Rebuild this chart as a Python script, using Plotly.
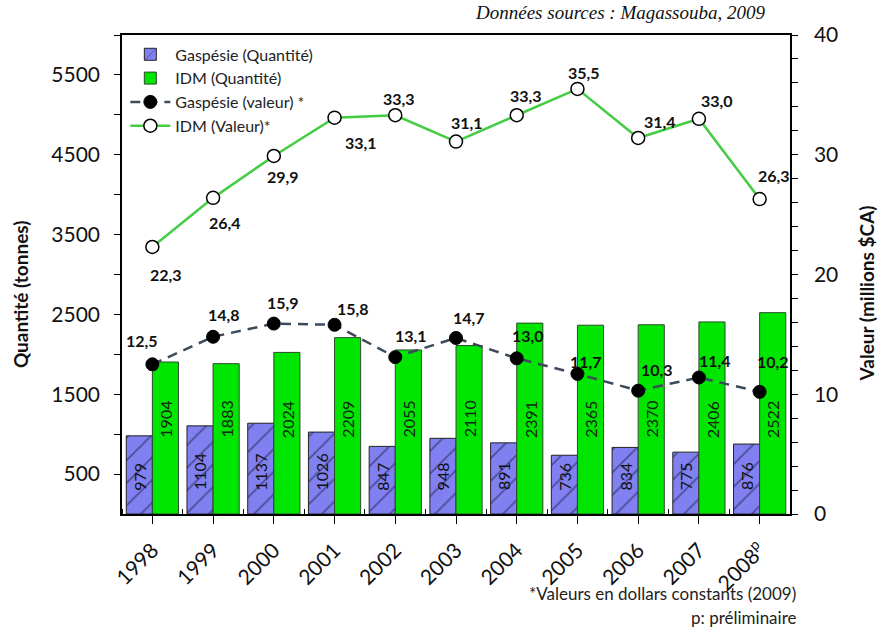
import plotly.graph_objects as go

# ---------------- data ----------------
years = ["1998", "1999", "2000", "2001", "2002", "2003", "2004", "2005", "2006", "2007", "2008<sup>p</sup>"]
gaspesie_qte = [979, 1104, 1137, 1026, 847, 948, 891, 736, 834, 775, 876]
idm_qte = [1904, 1883, 2024, 2209, 2055, 2110, 2391, 2365, 2370, 2406, 2522]
gaspesie_val = [12.5, 14.8, 15.9, 15.8, 13.1, 14.7, 13.0, 11.7, 10.3, 11.4, 10.2]
idm_val = [22.3, 26.4, 29.9, 33.1, 33.3, 31.1, 33.3, 35.5, 31.4, 33.0, 26.3]
left_ticks = [500, 1500, 2500, 3500, 4500, 5500]
left_minor = [1000, 2000, 3000, 4000, 5000, 6000]

# ---------------- style ----------------
FONT = "Lato, Carlito, 'Open Sans', sans-serif"
BLUE = "#8080f0"
GREEN = "#00e600"
BARGAP = 0.14
BAR_OFF = (1 - BARGAP) / 4
# label offsets in pixels (dx right, dy down)
gasp_lbl_off = [(-10, -24), (11, -22), (9, -21), (18, -16), (16, -22), (13, -20),
                (11, -23), (9, -12), (19, -21), (16, -17), (13, -30)]
idm_lbl_off = [(14, 28), (12, 25), (9, 21), (26, 25), (4, -17), (11, -19),
               (9, -20), (7, -16), (22, -16), (18, -18), (14, -24)]
BLUE_LBL_BASE = 270
GREEN_LBL_BASE = 930

xpos = list(range(len(years)))

fig = go.Figure()
fig.add_trace(go.Bar(
    x=xpos, y=gaspesie_qte, name="Gaspésie (Quantité)",
    marker=dict(color=BLUE, line=dict(color="#222", width=1),
                pattern=dict(shape="/", fgcolor="#14143a", bgcolor=BLUE, size=16, solidity=0.1)),
))
fig.add_trace(go.Bar(
    x=xpos, y=idm_qte, name="IDM (Quantité)",
    marker=dict(color=GREEN, line=dict(color="#2a4a2a", width=1)),
))
fig.add_trace(go.Scatter(
    x=xpos, y=gaspesie_val, name="Gaspésie (valeur) *", yaxis="y2",
    mode="lines+markers",
    line=dict(color="#3c4a5a", width=2.5, dash="10px,7px"),
    marker=dict(color="black", size=13, line=dict(color="black", width=1)),
))
fig.add_trace(go.Scatter(
    x=xpos, y=idm_val, name="IDM (Valeur)*", yaxis="y2",
    mode="lines+markers",
    line=dict(color="#44cc44", width=2.5),
    marker=dict(color="white", size=13, line=dict(color="black", width=1.5)),
))

ann = []
for i, v in enumerate(gaspesie_qte):
    ann.append(dict(x=i - BAR_OFF, y=BLUE_LBL_BASE, xref="x", yref="y", text=str(v),
                    textangle=-90, showarrow=False, xanchor="center", yanchor="bottom",
                    font=dict(family=FONT, size=16, color="#111")))
for i, v in enumerate(idm_qte):
    ann.append(dict(x=i + BAR_OFF, y=GREEN_LBL_BASE, xref="x", yref="y", text=str(v),
                    textangle=-90, showarrow=False, xanchor="center", yanchor="bottom",
                    font=dict(family=FONT, size=16, color="#0f260f")))
for i, v in enumerate(gaspesie_val):
    dx, dy = gasp_lbl_off[i]
    ann.append(dict(x=i, y=v, xref="x", yref="y2", text=f"{v:.1f}".replace(".", ","),
                    showarrow=False, xshift=dx, yshift=-dy,
                    font=dict(family=FONT, size=16, color="#111", weight="bold")))
for i, v in enumerate(idm_val):
    dx, dy = idm_lbl_off[i]
    ann.append(dict(x=i, y=v, xref="x", yref="y2", text=f"{v:.1f}".replace(".", ","),
                    showarrow=False, xshift=dx, yshift=-dy,
                    font=dict(family=FONT, size=16, color="#111", weight="bold")))

# titles / notes
ann += [
    dict(x=0.967, y=1.046, xref="paper", yref="paper", xanchor="right", yanchor="middle",
         text="<i>Données sources : Magassouba, 2009</i>", showarrow=False,
         font=dict(family="'Liberation Serif', 'DejaVu Serif', serif", size=19, color="#111")),
    dict(x=-0.152, y=0.46, xref="paper", yref="paper", textangle=-90, showarrow=False,
         text="<b>Quantité (tonnes)</b>", xanchor="center", yanchor="middle",
         font=dict(family=FONT, size=19, color="#111")),
    dict(x=1.115, y=0.46, xref="paper", yref="paper", textangle=-90, showarrow=False,
         text="<b>Valeur (millions $CA)</b>", xanchor="center", yanchor="middle",
         font=dict(family=FONT, size=19, color="#111")),
    dict(x=1.012, y=-0.165, xref="paper", yref="paper", xanchor="right", yanchor="middle",
         text="*Valeurs en dollars constants (2009)", showarrow=False,
         font=dict(family=FONT, size=17, color="#222")),
    dict(x=1.012, y=-0.217, xref="paper", yref="paper", xanchor="right", yanchor="middle",
         text="p: préliminaire", showarrow=False,
         font=dict(family=FONT, size=17, color="#222")),
]

fig.update_layout(
    width=889, height=632,
    margin=dict(l=122, r=99, t=35, b=118),
    paper_bgcolor="white", plot_bgcolor="white",
    font=dict(family=FONT, color="#111"),
    barmode="group", bargap=BARGAP, bargroupgap=0,
    showlegend=True,
    legend=dict(x=0.005, y=0.995, xanchor="left", yanchor="top",
                bgcolor="rgba(255,255,255,0)", font=dict(family=FONT, size=16, color="#222"),
                itemwidth=40, tracegroupgap=0),
    xaxis=dict(range=[-0.5, len(years) - 0.5], tickmode="array", tickvals=xpos, ticktext=years,
               tickangle=-45, ticks="outside", ticklen=8, tickcolor="black",
               showline=True, linecolor="black", linewidth=1.5, mirror=True,
               showgrid=False, zeroline=False, ticklabelstandoff=6,
               tickfont=dict(family=FONT, size=21, color="#111"),
               minor=dict(tickmode="linear", tick0=0.5, dtick=1, ticks="inside", ticklen=5,
                          tickcolor="black", showgrid=False)),
    yaxis=dict(range=[0, 6000], tickmode="array", tickvals=left_ticks,
               ticks="outside", ticklen=6, tickcolor="black",
               showline=True, linecolor="black", linewidth=1.5,
               showgrid=False, zeroline=False, ticklabelstandoff=10,
               tickfont=dict(family=FONT, size=21, color="#111"),
               minor=dict(tickmode="array", tickvals=left_minor, ticks="outside", ticklen=6,
                          tickcolor="black", showgrid=False)),
    yaxis2=dict(range=[0, 40], overlaying="y", side="right", tickmode="linear", tick0=0, dtick=10,
                ticks="outside", ticklen=6, tickcolor="black",
                showline=True, linecolor="black", linewidth=1.5,
                showgrid=False, zeroline=False, ticklabelstandoff=12,
                tickfont=dict(family=FONT, size=21, color="#111"),
                minor=dict(tickmode="linear", tick0=0, dtick=2, ticks="outside", ticklen=6,
                           tickcolor="black", showgrid=False)),
    annotations=ann,
)

fig.write_html("out.html", config={"displayModeBar": False},
               post_script="document.body.style.margin='0';document.body.style.overflow='hidden';")
